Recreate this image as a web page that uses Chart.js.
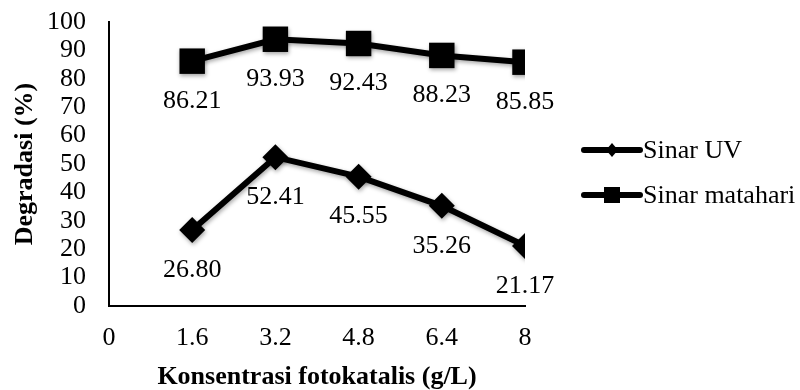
<!DOCTYPE html>
<html>
<head>
<meta charset="utf-8">
<script src="https://cdn.jsdelivr.net/npm/chart.js@4.4.1/dist/chart.umd.min.js"></script>
<style>
  html, body { margin: 0; padding: 0; background: #fff; }
  #wrap { width: 800px; height: 390px; }
</style>
</head>
<body>
<div id="wrap"><canvas id="chart" width="800" height="390"></canvas></div>
<script>
// ---------------- Data ----------------
const konsentrasi = [1.6, 3.2, 4.8, 6.4, 8];
const xTicks = [0, 1.6, 3.2, 4.8, 6.4, 8];
const sinarUV = [26.80, 52.41, 45.55, 35.26, 21.17];
const sinarMatahari = [86.21, 93.93, 92.43, 88.23, 85.85];
const seriesNames = ["Sinar UV", "Sinar matahari"];

const FONT = "'Liberation Serif', 'Times New Roman', serif";

const toPoints = arr => arr.map((v, i) => ({ x: konsentrasi[i], y: v }));

// shadow under lines/markers
const shadowPlugin = {
  id: "shadow",
  beforeDatasetsDraw(chart) {
    const ctx = chart.ctx;
    ctx.save();
    ctx.shadowColor = "rgba(0,0,0,0.35)";
    ctx.shadowBlur = 4;
    ctx.shadowOffsetX = 1;
    ctx.shadowOffsetY = 2;
  },
  afterDatasetsDraw(chart) {
    chart.ctx.restore();
  }
};

// value labels below each point
const valueLabels = {
  id: "valueLabels",
  afterDatasetsDraw(chart) {
    const ctx = chart.ctx;
    ctx.save();
    ctx.font = "26px " + FONT;
    ctx.fillStyle = "#000";
    ctx.textAlign = "center";
    ctx.textBaseline = "middle";
    chart.data.datasets.forEach((ds, di) => {
      chart.getDatasetMeta(di).data.forEach((pt, i) => {
        ctx.fillText(ds.data[i].y.toFixed(2), pt.x, pt.y + 40);
      });
    });
    ctx.restore();
  }
};

// legend: thick line with marker in the middle
const lineLegend = {
  id: "lineLegend",
  afterDraw(chart) {
    const ctx = chart.ctx;
    const rows = [150, 195];
    chart.data.datasets.forEach((ds, di) => {
      const y = rows[di];
      ctx.save();
      ctx.strokeStyle = "#000";
      ctx.fillStyle = "#000";
      ctx.lineWidth = 6;
      ctx.lineCap = "round";
      ctx.beginPath();
      ctx.moveTo(584, y);
      ctx.lineTo(640, y);
      ctx.stroke();
      const cx = 612;
      ctx.beginPath();
      if (ds.pointStyle === "rectRot") {
        ctx.moveTo(cx - 6, y); ctx.lineTo(cx, y - 7);
        ctx.lineTo(cx + 6, y); ctx.lineTo(cx, y + 7);
        ctx.closePath();
      } else {
        ctx.rect(cx - 8, y - 8, 16, 16);
      }
      ctx.fill();
      ctx.font = "26px " + FONT;
      ctx.textAlign = "left";
      ctx.textBaseline = "middle";
      ctx.fillText(ds.label, 643, y + 1);
      ctx.restore();
    });
  }
};

new Chart(document.getElementById("chart"), {
  type: "line",
  data: {
    datasets: [
      {
        label: seriesNames[0],
        data: toPoints(sinarUV),
        borderColor: "#000",
        backgroundColor: "#000",
        borderWidth: 6,
        pointStyle: "rectRot",
        pointRadius: 13,
        pointBorderWidth: 0,
        tension: 0
      },
      {
        label: seriesNames[1],
        data: toPoints(sinarMatahari),
        borderColor: "#000",
        backgroundColor: "#000",
        borderWidth: 6,
        pointStyle: "rect",
        pointRadius: 18,
        pointBorderWidth: 0,
        tension: 0
      }
    ]
  },
  options: {
    responsive: false,
    animation: false,
    layout: { autoPadding: false, padding: { top: 22, right: 275, bottom: 0, left: 0 } },
    plugins: {
      legend: { display: false },
      tooltip: { enabled: false }
    },
    scales: {
      x: {
        type: "linear",
        min: 0,
        max: 8,
        afterBuildTicks: scale => { scale.ticks = xTicks.map(v => ({ value: v })); },
        afterFit: scale => { scale.height = 84; },
        grid: { display: false, drawTicks: false },
        border: { display: true, color: "#000", width: 2 },
        ticks: {
          color: "#000",
          font: { family: FONT, size: 26 },
          padding: 17,
          maxRotation: 0,
          autoSkip: false,
          callback: v => String(v)
        },
        title: {
          display: true,
          text: "Konsentrasi fotokatalis (g/L)",
          color: "#000",
          font: { family: FONT, size: 26, weight: "bold" },
          padding: { top: 0, bottom: -3 }
        }
      },
      y: {
        min: 0,
        max: 100,
        afterFit: scale => {
          scale.width = 109;
          scale.paddingTop = 14;
          scale.paddingBottom = 14;
        },
        grid: { display: false, drawTicks: false },
        border: { display: true, color: "#000", width: 2 },
        ticks: {
          stepSize: 10,
          autoSkip: false,
          color: "#000",
          font: { family: FONT, size: 26 },
          padding: 23
        },
        title: {
          display: true,
          text: "Degradasi (%)",
          color: "#000",
          font: { family: FONT, size: 26, weight: "bold" },
          padding: { top: 10, bottom: 0 }
        }
      }
    }
  },
  plugins: [shadowPlugin, valueLabels, lineLegend]
});
</script>
</body>
</html>
